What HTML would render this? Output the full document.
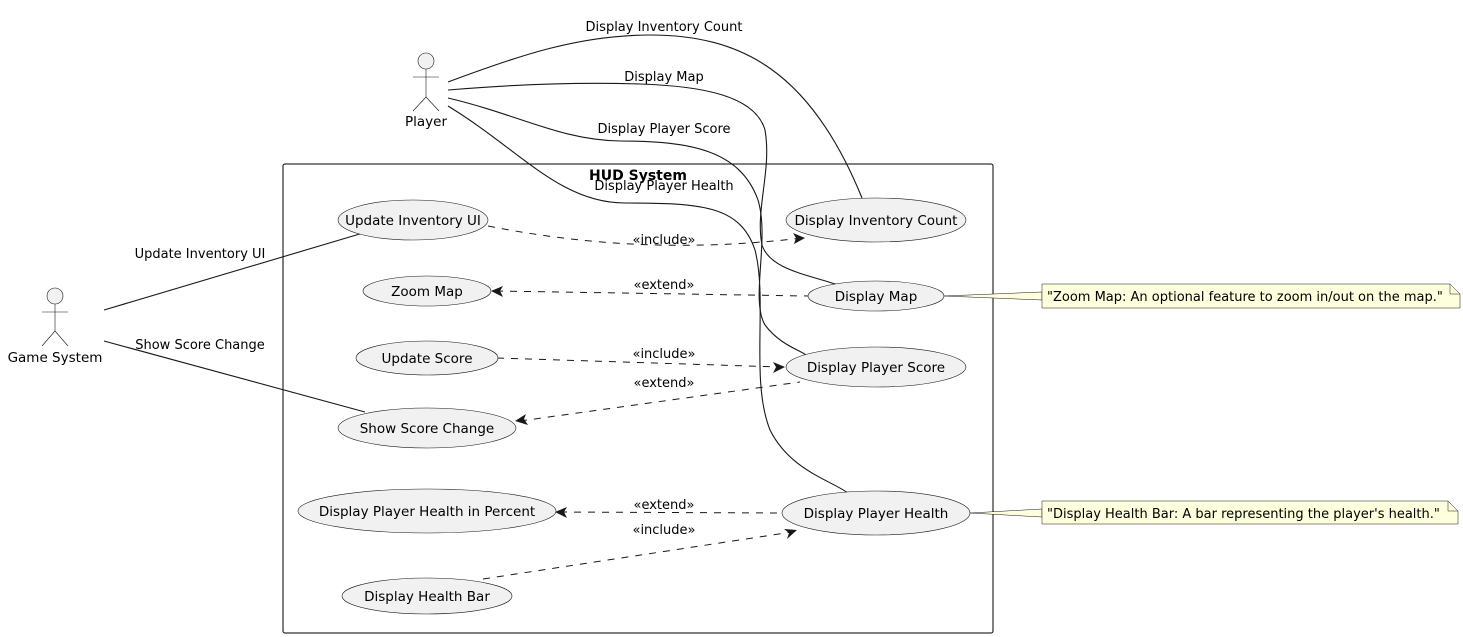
<!DOCTYPE html>
<html><head><meta charset="utf-8"><style>
body{margin:0;background:#fff}
svg{display:block}
text{font-family:"DejaVu Sans","Liberation Sans",sans-serif;fill:#000}
.e{fill:#f1f1f1;stroke:#181818;stroke-width:.6}
.l{fill:none;stroke:#181818;stroke-width:1.1}
.d{fill:none;stroke:#181818;stroke-width:1;stroke-dasharray:7,7}
.u{font-size:13.5px}
.s{font-size:13px}
</style></head><body>
<svg width="1463" height="637" viewBox="0 0 1463 637" xmlns="http://www.w3.org/2000/svg">
<rect x="283" y="164" width="710" height="469" rx="2" fill="none" stroke="#000" stroke-width="1"/>
<text x="638" y="180" font-size="14" font-weight="bold" text-anchor="middle">HUD System</text>

<g fill="#f1f1f1" stroke="#181818" stroke-width="0.6">
<circle cx="426" cy="61" r="8"/><line x1="426" y1="69" x2="426" y2="97"/><line x1="413" y1="77" x2="439" y2="77"/><line x1="426" y1="97" x2="413" y2="111"/><line x1="426" y1="97" x2="439" y2="111"/>
<circle cx="55" cy="296" r="8"/><line x1="55" y1="304" x2="55" y2="331"/><line x1="42" y1="312" x2="68" y2="312"/><line x1="55" y1="331" x2="42" y2="346"/><line x1="55" y1="331" x2="68" y2="346"/>
</g>
<text x="426" y="126" class="u" text-anchor="middle">Player</text>
<text x="55" y="362" class="u" text-anchor="middle">Game System</text>

<path class="l" d="M448,82 C520,55 580,35 650,35 C740,35 810,70 862,198"/>
<path class="l" d="M448,90 C520,84 580,82 640,84 C700,86 755,95 765,130 C772,170 755,210 762,245 C770,270 810,275 838,285"/>
<path class="l" d="M448,98 C520,115 560,140 620,141 C690,141 740,150 758,200 C770,240 750,300 765,325 C780,345 800,350 806,355"/>
<path class="l" d="M448,106 C520,150 560,203 625,203 C700,203 740,205 755,250 C768,300 750,380 770,430 C790,470 830,480 848,493"/>
<text x="664" y="31" class="s" text-anchor="middle">Display Inventory Count</text>
<text x="664" y="81" class="s" text-anchor="middle">Display Map</text>
<text x="664" y="133" class="s" text-anchor="middle">Display Player Score</text>
<text x="664" y="190" class="s" text-anchor="middle">Display Player Health</text>

<line class="l" x1="104" y1="310" x2="363" y2="233"/>
<line class="l" x1="104" y1="341" x2="365" y2="412"/>
<text x="200" y="258" class="s" text-anchor="middle">Update Inventory UI</text>
<text x="200" y="349" class="s" text-anchor="middle">Show Score Change</text>

<path class="d" d="M488,226 C600,248 700,250 802,238"/>
<path class="d" d="M496,291 L808,296"/>
<path class="d" d="M497,358 L780,367"/>
<path class="d" d="M520,421 L800,382"/>
<path class="d" d="M560,512 L782,513"/>
<path class="d" d="M483,579 L792,532"/>
<g fill="#181818">
<polygon points="805,238 793,233 796,238 794,244"/>
<polygon points="491,291 503,286 500,291 503,297"/>
<polygon points="785,367 773,362 776,367 773,373"/>
<polygon points="515,421 526,414 524,419 528,425"/>
<polygon points="555,512 567,507 564,512 567,518"/>
<polygon points="797,530 784,529 789,533 787,539"/>
</g>
<text x="664" y="244" class="s" text-anchor="middle">«include»</text>
<text x="664" y="289" class="s" text-anchor="middle">«extend»</text>
<text x="664" y="358" class="s" text-anchor="middle">«include»</text>
<text x="664" y="387" class="s" text-anchor="middle">«extend»</text>
<text x="664" y="509" class="s" text-anchor="middle">«extend»</text>
<text x="664" y="534" class="s" text-anchor="middle">«include»</text>

<ellipse class="e" cx="413" cy="220" rx="75" ry="20"/><text x="413" y="225" class="u" text-anchor="middle">Update Inventory UI</text>
<ellipse class="e" cx="427" cy="291" rx="64" ry="15"/><text x="427" y="296" class="u" text-anchor="middle">Zoom Map</text>
<ellipse class="e" cx="427" cy="358" rx="71" ry="17"/><text x="427" y="363" class="u" text-anchor="middle">Update Score</text>
<ellipse class="e" cx="427" cy="428" rx="89" ry="20"/><text x="427" y="433" class="u" text-anchor="middle">Show Score Change</text>
<ellipse class="e" cx="427" cy="511" rx="129" ry="22"/><text x="427" y="516" class="u" text-anchor="middle">Display Player Health in Percent</text>
<ellipse class="e" cx="427" cy="596" rx="85" ry="18"/><text x="427" y="601" class="u" text-anchor="middle">Display Health Bar</text>
<ellipse class="e" cx="876" cy="220" rx="90" ry="22"/><text x="876" y="225" class="u" text-anchor="middle">Display Inventory Count</text>
<ellipse class="e" cx="876" cy="296" rx="68" ry="15"/><text x="876" y="301" class="u" text-anchor="middle">Display Map</text>
<ellipse class="e" cx="876" cy="367" rx="90" ry="20"/><text x="876" y="372" class="u" text-anchor="middle">Display Player Score</text>
<ellipse class="e" cx="876" cy="513" rx="94" ry="22"/><text x="876" y="518" class="u" text-anchor="middle">Display Player Health</text>

<g fill="#feffdd" stroke="#181818" stroke-width="0.5">
<polygon points="944,296 1042,292 1042,300"/>
<path d="M1042,284 L1450,284 L1460,294 L1460,308 L1042,308 Z"/>
<path d="M1450,284 L1450,294 L1460,294" fill="none"/>
<polygon points="970,513 1042,509 1042,517"/>
<path d="M1042,501 L1448,501 L1458,511 L1458,524 L1042,524 Z"/>
<path d="M1448,501 L1448,511 L1458,511" fill="none"/>
</g>
<text x="1047" y="301" class="s">"Zoom Map: An optional feature to zoom in/out on the map."</text>
<text x="1047" y="518" class="s">"Display Health Bar: A bar representing the player's health."</text>
</svg>
</body></html>
